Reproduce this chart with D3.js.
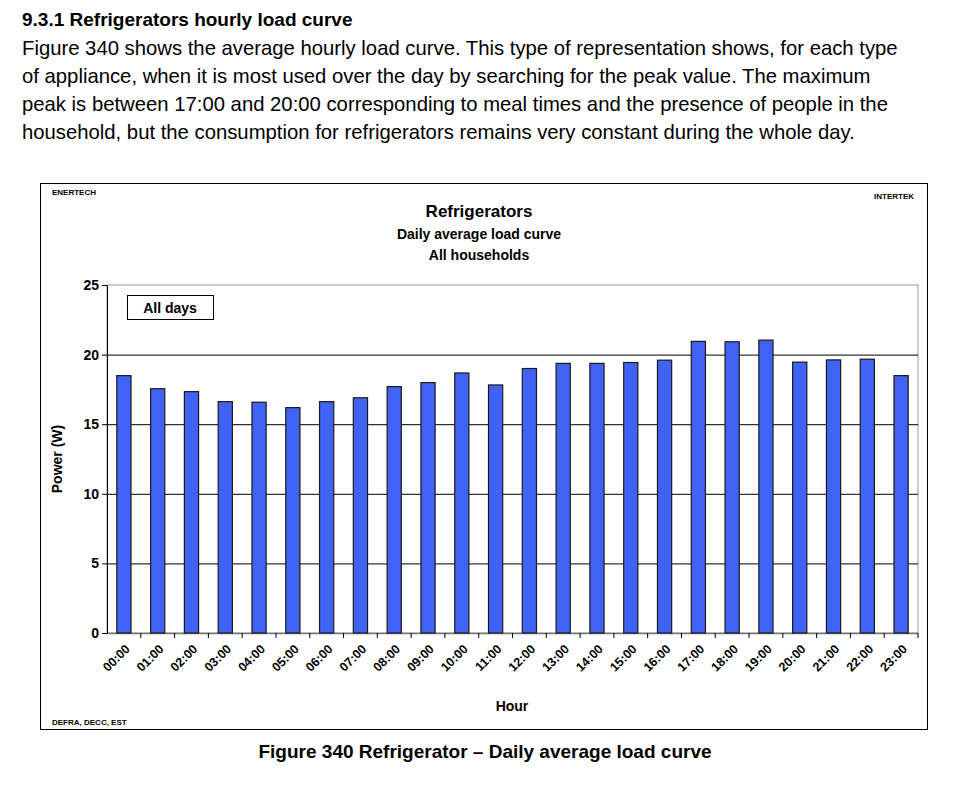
<!DOCTYPE html>
<html><head><meta charset="utf-8">
<script src="https://cdn.jsdelivr.net/npm/d3@7"></script>
<style>body{margin:0;background:#fff;font-family:"Liberation Sans",Arial,sans-serif;}</style>
</head><body>
<svg id="c" width="966" height="788"></svg>
<script>
const hours = ["00:00","01:00","02:00","03:00","04:00","05:00","06:00","07:00","08:00","09:00","10:00","11:00","12:00","13:00","14:00","15:00","16:00","17:00","18:00","19:00","20:00","21:00","22:00","23:00"];
const power = [18.49,17.55,17.34,16.62,16.58,16.19,16.62,16.9,17.7,17.99,18.68,17.82,19.0,19.37,19.37,19.43,19.6,20.95,20.92,21.04,19.46,19.62,19.67,18.49];
const yTicks = [0,5,10,15,20,25];

const svg = d3.select("#c");
const F = "Liberation Sans, Arial, sans-serif";
function txt(x,y,s,size,weight,anchor){return svg.append("text").attr("x",x).attr("y",y).text(s)
  .attr("font-size",size).attr("font-weight",weight||"normal").attr("text-anchor",anchor||"start").attr("font-family",F).attr("fill","#000");}

txt(22,26,"9.3.1  Refrigerators hourly load curve",19,"bold");
const para=["Figure 340 shows the average hourly load curve. This type of representation shows, for each type",
"of appliance, when it is most used over the day by searching for the peak value. The maximum",
"peak is between 17:00 and 20:00 corresponding to meal times and the presence of people in the",
"household, but the consumption for refrigerators remains very constant during the whole day."];
para.forEach((p,i)=>txt(22,55+i*28,p,20.3));

svg.append("rect").attr("x",40.5).attr("y",183.5).attr("width",887).attr("height",546).attr("fill","none").attr("stroke","#000");
txt(52,195,"ENERTECH",8,"bold");
txt(914,199,"INTERTEK",8,"bold","end");
txt(52,725,"DEFRA, DECC, EST",8,"bold");
txt(479,217,"Refrigerators",17,"bold","middle");
txt(479,239,"Daily average load curve",14,"bold","middle");
txt(479,260,"All households",14,"bold","middle");

const L=107,R=918,T=285,B=633;
const x=d3.scaleBand().domain(hours).range([L,R]).paddingInner(0.58).paddingOuter(0.29);
const y=d3.scaleLinear().domain([0,25]).range([B,T]);
const g=svg.append("g");
g.append("rect").attr("x",L).attr("y",T).attr("width",R-L).attr("height",B-T).attr("fill","#fff").attr("stroke","#999");
g.selectAll(".gl").data(yTicks.filter(d=>d>0&&d<25)).join("line")
 .attr("x1",L).attr("x2",R).attr("y1",d=>y(d)+0.5).attr("y2",d=>y(d)+0.5).attr("stroke","#000").attr("stroke-width",1);
g.append("line").attr("x1",L).attr("x2",R).attr("y1",B+0.5).attr("y2",B+0.5).attr("stroke","#777").attr("stroke-width",1.5);
g.selectAll(".bar").data(power).join("rect")
 .attr("x",(d,i)=>x(hours[i])).attr("width",x.bandwidth()).attr("y",d=>y(d)).attr("height",d=>B-y(d))
 .attr("fill","#4163f5").attr("stroke","#1a1a1a").attr("stroke-width",1.2);
const ya=d3.axisLeft(y).tickValues(yTicks).tickSize(5).tickSizeOuter(0);
const yg=svg.append("g").attr("transform",`translate(${L},0)`).call(ya);
yg.selectAll("text").attr("font-size",14).attr("font-weight","bold").attr("font-family",F).attr("fill","#000");
yg.select(".domain").attr("stroke","#000");
const xa=d3.axisBottom(x).tickSize(5).tickSizeOuter(0);
const xg=svg.append("g").attr("transform",`translate(0,${B})`).call(xa);
xg.select(".domain").remove();
xg.selectAll(".tick line").attr("transform",`translate(${x.step()/2},0)`).attr("stroke","#000");
xg.selectAll("text").attr("font-size",12.5).attr("font-weight","bold").attr("font-family",F).attr("fill","#000")
 .attr("text-anchor","end").attr("transform","translate(-2,8) rotate(-45)").attr("dy","0.35em");
txt(512,711,"Hour",14,"bold","middle");
svg.append("text").attr("transform","translate(62,459) rotate(-90)").attr("text-anchor","middle")
 .attr("font-size",14).attr("font-weight","bold").attr("font-family",F).text("Power (W)");
svg.append("rect").attr("x",127.5).attr("y",295.5).attr("width",86).attr("height",24).attr("fill","#fff").attr("stroke","#000");
txt(170,313,"All days",14,"bold","middle");
txt(485,758,"Figure 340 Refrigerator – Daily average load curve",19,"bold","middle");
</script></body></html>
